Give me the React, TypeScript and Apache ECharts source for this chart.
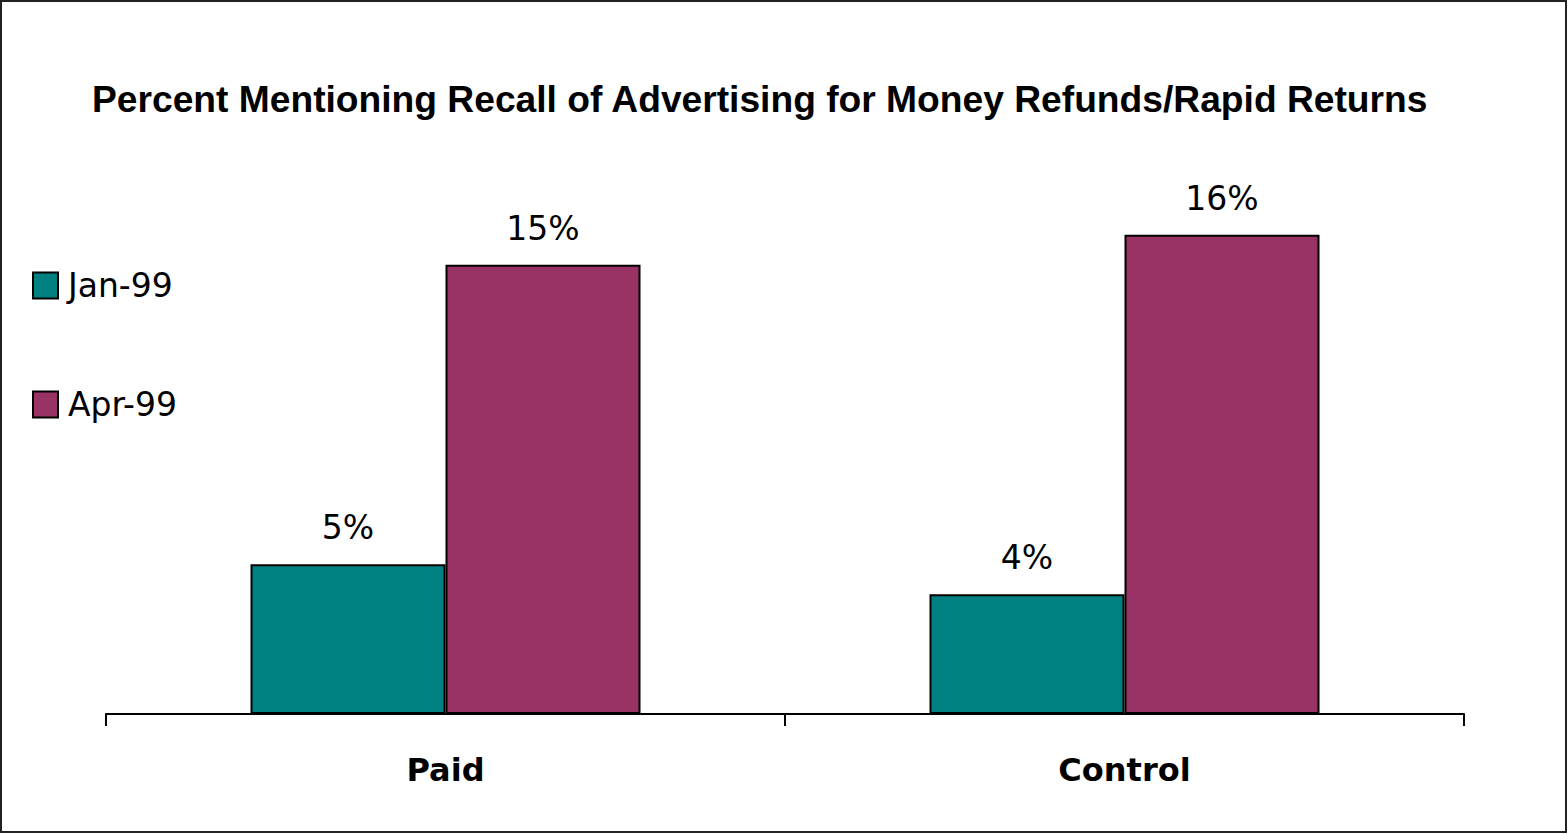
import React, { useEffect, useRef } from "react";
import * as echarts from "echarts";

const categories = ["Paid", "Control"];
const jan99 = [5, 4];
const apr99 = [15, 16];
const seriesNames = ["Jan-99", "Apr-99"];
const titleText = "Percent Mentioning Recall of Advertising for Money Refunds/Rapid Returns";

const FONT = "'Liberation Sans', Arial, Helvetica, sans-serif";
const WIDE = "'DejaVu Sans', Verdana, sans-serif";

export default function App() {
  const ref = useRef<HTMLDivElement>(null);
  useEffect(() => {
    if (!ref.current) return;
    const chart = echarts.init(ref.current, undefined, { renderer: "svg" });
    const labelStyle = {
      show: true,
      position: "top",
      distance: 20,
      formatter: (p: any) => p.value + "%",
      color: "#000",
      fontSize: 33,
      fontFamily: WIDE,
    };
    chart.setOption({
      animation: false,
      backgroundColor: "#fff",
      textStyle: { fontFamily: FONT },
      title: {
        text: titleText,
        left: 92,
        top: 80,
        padding: 0,
        textStyle: { fontSize: 37.2, fontWeight: "bold", color: "#000", fontFamily: FONT },
      },
      legend: {
        orient: "vertical",
        left: 32,
        top: 269,
        padding: 0,
        itemWidth: 25,
        itemHeight: 26,
        itemGap: 86,
        icon: "rect",
        data: seriesNames,
        textStyle: { fontSize: 33, color: "#000", fontFamily: WIDE, padding: [0, 0, 0, 5] },
      },
      grid: { left: 106, right: 104, top: 115, bottom: 120, containLabel: false },
      xAxis: {
        type: "category",
        data: categories,
        axisLine: { lineStyle: { color: "#000", width: 2 } },
        axisTick: { show: true, length: 12, lineStyle: { color: "#000", width: 2 } },
        axisLabel: { color: "#000", fontSize: 32, fontWeight: "bold", fontFamily: WIDE, margin: 40 },
      },
      yAxis: { type: "value", min: 0, max: 20, show: false, splitLine: { show: false } },
      series: [
        {
          name: seriesNames[0],
          type: "bar",
          data: jan99,
          barWidth: 195,
          barGap: "0%",
          itemStyle: { color: "#008080", borderColor: "#000", borderWidth: 2 },
          label: labelStyle,
        },
        {
          name: seriesNames[1],
          type: "bar",
          data: apr99,
          barWidth: 195,
          barGap: "0%",
          itemStyle: { color: "#993366", borderColor: "#000", borderWidth: 2 },
          label: labelStyle,
        },
      ],
      graphic: [
        {
          type: "rect",
          shape: { x: 1, y: 1, width: 1565, height: 831 },
          style: { fill: "none", stroke: "#222", lineWidth: 2 },
          silent: true,
        },
      ],
    });
    return () => chart.dispose();
  }, []);
  return (
    <div
      ref={ref}
      style={{ position: "fixed", left: 0, top: 0, width: 1568, height: 834 }}
    />
  );
}
